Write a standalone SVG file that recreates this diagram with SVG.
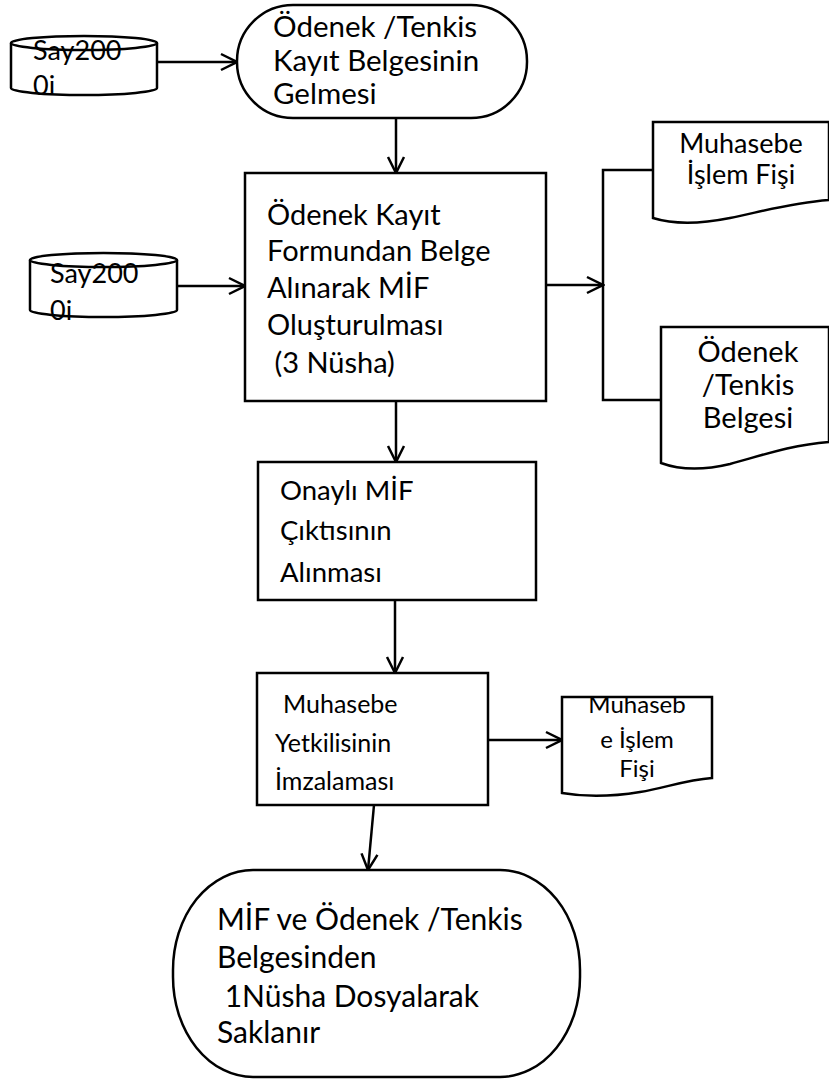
<svg xmlns="http://www.w3.org/2000/svg" width="829" height="1082" viewBox="0 0 829 1082">
<defs>
<style>
.s{fill:#fff;stroke:#000;stroke-width:2.5}
.t{font-family:Lato,"Open Sans","Liberation Sans",sans-serif;font-size:27px;fill:#000}
.m{text-anchor:middle}
.c{fill:none;stroke:#000;stroke-width:2.5}
</style>
<marker id="a" markerWidth="20" markerHeight="20" refX="18" refY="10" orient="auto" markerUnits="userSpaceOnUse">
<path d="M2,2 L18,10 L2,18" fill="none" stroke="#000" stroke-width="2.5"/>
</marker>
</defs>
<g id="connectors">
<line class="c" x1="157" y1="62" x2="237" y2="62" marker-end="url(#a)"/>
<line class="c" x1="396" y1="118" x2="396" y2="173" marker-end="url(#a)"/>
<line class="c" x1="177" y1="286" x2="245" y2="286" marker-end="url(#a)"/>
<line class="c" x1="546" y1="285" x2="603" y2="285" marker-end="url(#a)"/>
<polyline class="c" points="653,170 603,170 603,400 661,400"/>
<line class="c" x1="396" y1="401" x2="396" y2="462" marker-end="url(#a)"/>
<line class="c" x1="395" y1="600" x2="395" y2="673" marker-end="url(#a)"/>
<line class="c" x1="488" y1="740" x2="562" y2="740" marker-end="url(#a)"/>
<line class="c" x1="374" y1="805" x2="368" y2="870" marker-end="url(#a)"/>
</g>
<g id="db1">
<path class="s" d="M11,43 L11,88 A73,7 0 0 0 157,88 L157,43"/>
<ellipse class="s" cx="84" cy="43" rx="73" ry="7"/>
<text class="t" x="33" y="60">Say200</text>
<text class="t" x="33" y="95">0i</text>
</g>
<g id="start">
<rect class="s" x="237" y="5" width="290" height="113" rx="56" ry="56"/>
<text class="t" x="273" y="37" style="font-size:29.5px">Ödenek /Tenkis</text>
<text class="t" x="273" y="71" style="font-size:29.5px">Kayıt Belgesinin</text>
<text class="t" x="273" y="104" style="font-size:29.5px">Gelmesi</text>
</g>
<g id="db2">
<path class="s" d="M30,260 L30,310 A73.5,7 0 0 0 177,310 L177,260"/>
<ellipse class="s" cx="103.5" cy="260" rx="73.5" ry="7"/>
<text class="t" x="50" y="283">Say200</text>
<text class="t" x="50" y="320">0i</text>
</g>
<g id="form">
<rect class="s" x="245" y="173" width="301" height="228"/>
<text class="t" x="267" y="225" style="font-size:29px">Ödenek Kayıt</text>
<text class="t" x="267" y="261" style="font-size:29px">Formundan Belge</text>
<text class="t" x="267" y="298" style="font-size:29px">Alınarak  MİF</text>
<text class="t" x="267" y="335" style="font-size:29px">Oluşturulması</text>
<text class="t" x="267" y="373" style="font-size:29px" xml:space="preserve"> (3 Nüsha)</text>
</g>
<g id="doc1">
<path class="s" d="M653,122 L829,122 L829,200 C790,203 760,212 730,218 C700,224 672,224 653,218 Z"/>
<text class="t m" x="741" y="153">Muhasebe</text>
<text class="t m" x="741" y="184">İşlem Fişi</text>
</g>
<g id="doc2">
<path class="s" d="M661,327 L829,327 L829,442 C790,445 760,456 730,464 C705,470 680,470 661,463 Z"/>
<text class="t m" x="748" y="362" style="font-size:29px">Ödenek</text>
<text class="t m" x="748" y="395" style="font-size:29px">/Tenkis</text>
<text class="t m" x="748" y="428" style="font-size:29px">Belgesi</text>
</g>
<g id="approved">
<rect class="s" x="258" y="462" width="278" height="138"/>
<text class="t" x="280" y="500" style="font-size:27.5px">Onaylı MİF</text>
<text class="t" x="280" y="540" style="font-size:27.5px">Çıktısının</text>
<text class="t" x="280" y="582" style="font-size:27.5px">Alınması</text>
</g>
<g id="sign">
<rect class="s" x="257" y="673" width="231" height="132"/>
<text class="t" x="283" y="713" style="font-size:25px">Muhasebe</text>
<text class="t" x="275" y="752" style="font-size:25px">Yetkilisinin</text>
<text class="t" x="275" y="790" style="font-size:25px">İmzalaması</text>
</g>
<g id="doc3">
<path class="s" d="M562,697 L712,697 L712,778 C685,780 665,788 640,792 C610,797 585,797 562,793 Z"/>
<text class="t m" x="637" y="713" style="font-size:24px">Muhaseb</text>
<text class="t m" x="637" y="748" style="font-size:24px">e İşlem</text>
<text class="t m" x="637" y="777" style="font-size:24px">Fişi</text>
</g>
<g id="end">
<rect class="s" x="173" y="870" width="407" height="207" rx="80" ry="100"/>
<text class="t" x="217" y="930" style="font-size:30px">MİF ve Ödenek /Tenkis</text>
<text class="t" x="217" y="968" style="font-size:30px">Belgesinden</text>
<text class="t" x="217" y="1007" style="font-size:30px" xml:space="preserve"> 1Nüsha Dosyalarak</text>
<text class="t" x="217" y="1043" style="font-size:30px">Saklanır</text>
</g>
</svg>
